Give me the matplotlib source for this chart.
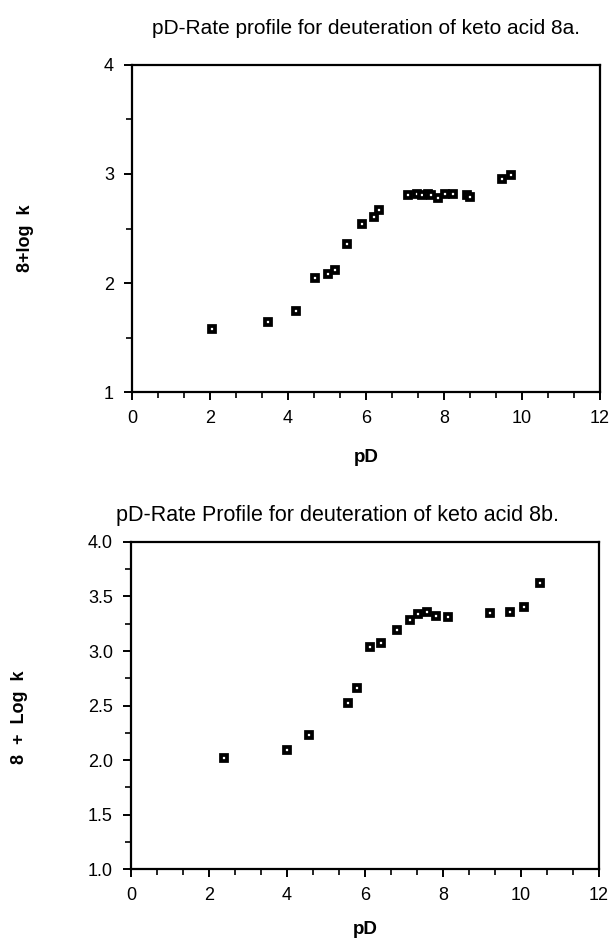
import numpy as np
import matplotlib
matplotlib.use("Agg")
import matplotlib.pyplot as plt
from matplotlib.ticker import MultipleLocator, FormatStrFormatter

plt.rcParams['font.family'] = ['Liberation Sans', 'DejaVu Sans']

# keto acid 8a
pd_8a = [2.04, 3.49, 4.20, 4.70, 5.02, 5.20, 5.52, 5.91, 6.21, 6.34,
         7.08, 7.30, 7.44, 7.60, 7.67, 7.85, 8.03, 8.23, 8.60, 8.66, 9.50, 9.72]
logk_8a = [1.58, 1.64, 1.74, 2.05, 2.08, 2.12, 2.36, 2.54, 2.61, 2.67,
           2.81, 2.82, 2.81, 2.82, 2.81, 2.78, 2.82, 2.82, 2.81, 2.79, 2.95, 2.99]

# keto acid 8b
pd_8b = [2.38, 3.99, 4.57, 5.57, 5.79, 6.13, 6.40, 6.83, 7.15, 7.37,
         7.58, 7.81, 8.14, 9.21, 9.72, 10.08, 10.49]
logk_8b = [2.02, 2.09, 2.23, 2.52, 2.66, 3.04, 3.07, 3.19, 3.28, 3.34,
           3.36, 3.32, 3.31, 3.35, 3.36, 3.40, 3.62]

fig = plt.figure(figsize=(6.13, 9.39), dpi=100)
ax1 = fig.add_axes([0.2153, 0.5825, 0.7635, 0.3483])
ax2 = fig.add_axes([0.2137, 0.0745, 0.7635, 0.3483])


def style(ax, xpad):
    for s in ax.spines.values():
        s.set_linewidth(1.6)
    ax.set_xlim(0, 12)
    ax.xaxis.set_major_locator(MultipleLocator(2))
    ax.xaxis.set_minor_locator(MultipleLocator(2 / 3))
    ax.tick_params(which='major', direction='out', length=6, width=1.4,
                   labelsize=13, pad=7)
    ax.tick_params(which='minor', direction='out', length=4, width=1.2)
    ax.set_xlabel('pD', fontsize=13.5, fontweight='bold', labelpad=xpad)


def draw(ax, x, y):
    ax.plot(x, y, 's', ms=5, mfc='white', mec='black', mew=2.7, clip_on=False)


draw(ax1, pd_8a, logk_8a)
style(ax1, 16)
ax1.set_ylim(1, 4)
ax1.yaxis.set_major_locator(MultipleLocator(1))
ax1.yaxis.set_minor_locator(MultipleLocator(0.5))
ax1.set_ylabel('8+log  k', fontsize=13, fontweight='bold')
ax1.yaxis.set_label_coords(-0.21, 0.47)
ax1.set_title('pD-Rate profile for deuteration of keto acid 8a.', fontsize=15, pad=22)

draw(ax2, pd_8b, logk_8b)
style(ax2, 12)
ax2.set_ylim(1, 4)
ax2.yaxis.set_major_locator(MultipleLocator(0.5))
ax2.yaxis.set_minor_locator(MultipleLocator(0.25))
ax2.yaxis.set_major_formatter(FormatStrFormatter('%.1f'))
ax2.set_ylabel('8  +  Log  k', fontsize=13, fontweight='bold')
ax2.yaxis.set_label_coords(-0.22, 0.465)
ax2.set_title('pD-Rate Profile for deuteration of keto acid 8b.', fontsize=15.5,
              x=0.442, pad=15)

fig.savefig('out.png', dpi=100)
